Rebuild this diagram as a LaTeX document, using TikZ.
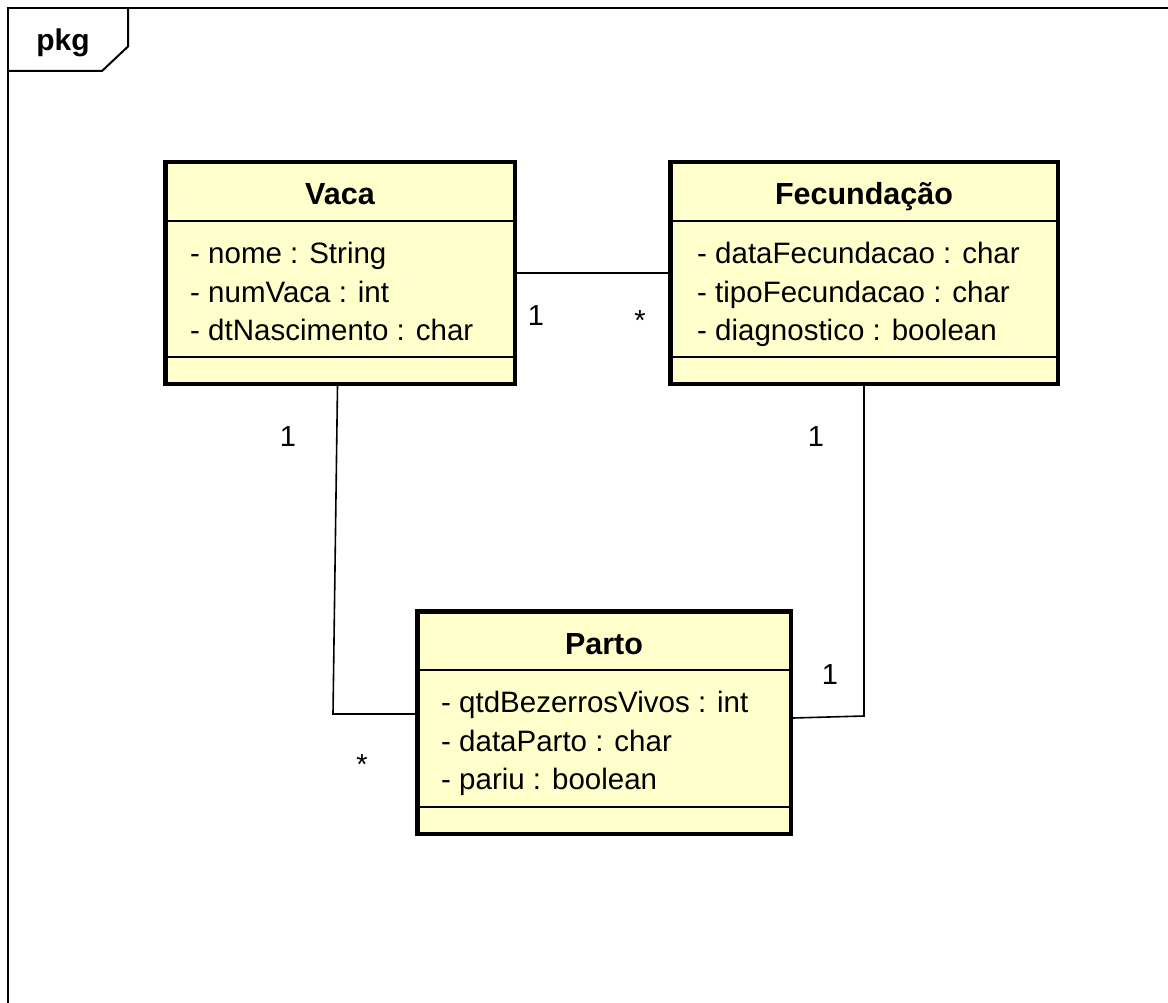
\documentclass[tikz,border=0pt]{standalone}
\usepackage{fontspec}
\setmainfont{Liberation Sans}
\usetikzlibrary{positioning}
\definecolor{umlfill}{RGB}{255,255,204}

\begin{document}
\begin{tikzpicture}[x=1pt,y=-1pt,classbox/.style={rectangle, draw, line width=4.5pt, fill=umlfill, inner sep=0pt},
     classname/.style={anchor=base, inner sep=0pt, font=\bfseries\fontsize{30.5}{35}\selectfont},
     attrs/.style={anchor=north west, align=left, inner sep=0pt, font=\fontsize{29.5}{38.5}\selectfont},
     divider/.style={line width=1.5pt},assoc/.style={line width=1.6pt},frame/.style={line width=2pt},
     mult/.style={inner sep=0pt, font=\fontsize{29}{35}\selectfont}]
     \useasboundingbox (0,0) rectangle (1168,1003);
     % package frame
     \draw [frame] (1168,8) -- (8,8) -- (8,1003);\draw [frame] (128,8) -- (128,46.5) -- (102,71) -- (8,71);
     \node (pkglabel) [anchor=base, inner sep=0pt, font=\bfseries\fontsize{30}{34}\selectfont] at (63,51) {pkg};
     % classes
     \node (vaca) [classbox, minimum width=349.5pt, minimum height=221.5pt] at (340,273) {};
     \node (fecund) [classbox, minimum width=387.5pt, minimum height=221.5pt, right=151pt of vaca] {};
     \node (parto) [classbox, minimum width=373.5pt, minimum height=222.5pt] at (604,722.5) {};
     \foreach \c in {vaca,fecund,parto} {\draw [divider] ([yshift=-61pt]\c.north west) -- ([yshift=-61pt]\c.north east);
       \draw [divider] ([yshift=29pt]\c.south west) -- ([yshift=29pt]\c.south east);}
     \node (vacaname) [classname] at ([yshift=-45pt]vaca.north) {Vaca};
     \node (fecundname) [classname] at ([yshift=-45pt]fecund.north) {Fecundação};
     \node (partoname) [classname] at ([yshift=-45pt]parto.north) {Parto};
     \node (vacaattr) [attrs] at ([xshift=27pt,yshift=-82pt]vaca.north west) {- nome : String\\- numVaca : int\\- dtNascimento : char};
     \node (fecundattr) [attrs] at ([xshift=29pt,yshift=-82pt]fecund.north west) {- dataFecundacao : char\\- tipoFecundacao : char\\- diagnostico : boolean};
     \node (partoattr) [attrs] at ([xshift=26pt,yshift=-82pt]parto.north west) {- qtdBezerrosVivos : int\\- dataParto : char\\- pariu : boolean};
     % associations
     \coordinate (vpbend) at (333,714);\coordinate (fpbend) at (864,716);
     \draw [assoc] (vaca) -- (fecund);
     \draw [assoc] ([xshift=-2.5pt]vaca.south) -- (vpbend) -- (parto.west |- vpbend);
     \draw [assoc] (fecund.south) -- (fpbend) -- ([yshift=4.5pt]parto.east);
     \node (vfone) [mult] at (536,316) {1};\node (vfmany) [mult] at (640,321) {*};
     \node (vpone) [mult] at (288,437) {1};\node (vpmany) [mult] at (362,765) {*};
     \node (fpone) [mult] at (816,437) {1};\node (fptwo) [mult] at (830,675) {1};
\end{tikzpicture}
\end{document}
